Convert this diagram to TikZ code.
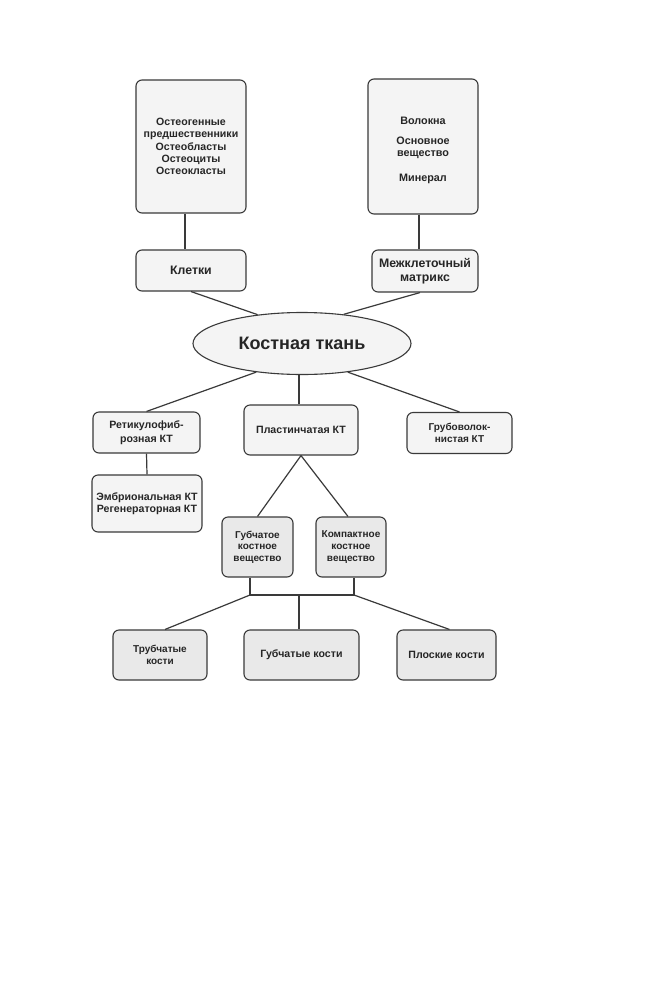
\documentclass[tikz,border=0pt]{standalone}
\usepackage{fontspec}
\setmainfont{Liberation Sans}
\usetikzlibrary{shapes.geometric,calc}
\definecolor{ln}{HTML}{3A3A3A}
\definecolor{fillA}{HTML}{F4F4F4}
\definecolor{fillB}{HTML}{E9E9E9}
\tikzset{
  box/.style={draw=ln, line width=1.1pt, rounded corners=6pt, fill=fillA, inner sep=0pt,
    align=center, font=\bfseries\fontsize{10.6}{12.4}\selectfont, text=black!85},
  boxg/.style={box, fill=fillB},
  small/.style={font=\bfseries\fontsize{10}{11.6}\selectfont},
  big/.style={font=\bfseries\fontsize{12.3}{14}\selectfont},
  conn/.style={draw=ln, line width=1.2pt},
}
\begin{document}
\begin{tikzpicture}[x=1pt,y=-1pt]
\useasboundingbox[fill=white] (0,0) rectangle (664,1005);
% top boxes
\node[box, minimum width=110, minimum height=133] (cellsdet) at (191,146.5)
  {Остеогенные\\предшественники\\Остеобласты\\Остеоциты\\Остеокласты};
\node[box, big, minimum width=110, minimum height=41] (cells) at (191,270.5) {Клетки};
\node[box, minimum width=110, minimum height=135, font=\bfseries\fontsize{10.8}{12}\selectfont] (matdet) at (423,146.5)
  {\rule{0pt}{16pt}Волокна\\[8pt]Основное\\вещество\\[13pt]Минерал};
\node[box, big, minimum width=106, minimum height=42] (matrix) at (425,271) {Межклеточный\\матрикс};
% ellipse
\node[ellipse, draw=ln, line width=1.1pt, fill=fillA, minimum width=218, minimum height=62, inner sep=0pt,
  font=\bfseries\fontsize{18}{20}\selectfont, text=black!85] (ell) at (302,343.5) {Костная ткань};
% second row
\node[box, minimum width=107, minimum height=41, font=\bfseries\fontsize{10.6}{14}\selectfont] (retic) at (146.5,432.5) {Ретикулофиб-\\розная КТ};
\node[box, minimum width=110, minimum height=57] (embr) at (147,503.5) {Эмбриональная КТ\\Регенераторная КТ};
\node[box, minimum width=114, minimum height=50] (plast) at (301,430) {Пластинчатая КТ};
\node[box, small, minimum width=105, minimum height=41] (grubo) at (459.5,433) {Грубоволок-\\нистая КТ};
% third row
\node[boxg, small, minimum width=71, minimum height=60] (gubch) at (257.5,547) {Губчатое\\костное\\вещество};
\node[boxg, small, minimum width=70, minimum height=60] (kompakt) at (351,547) {Компактное\\костное\\вещество};
% bottom
\node[boxg, small, minimum width=94, minimum height=50] (trub) at (160,655) {Трубчатые\\кости};
\node[boxg, minimum width=115, minimum height=50] (gubk) at (301.5,655) {Губчатые кости};
\node[boxg, minimum width=99, minimum height=50] (plosk) at (446.5,655) {Плоские кости};
% connectors
\draw[conn] ([xshift=-6]cellsdet.south) -- ([xshift=-6]cells.north);
\draw[conn] ([xshift=-4]matdet.south) -- ([xshift=-6]matrix.north);
\draw[conn] (cells.south) -- (ell.147);
\draw[conn] ([xshift=-5]matrix.south) -- (ell.35);
\draw[conn] (ell.212) -- (retic.north);
\draw[conn] ([xshift=-2]plast.north |- ell.south) -- ([xshift=-2]plast.north);
\draw[conn] (ell.328) -- (grubo.north);
\draw[conn] (retic.south) -- (embr.north);
\draw[conn] (plast.south) -- (gubch.north);
\draw[conn] (plast.south) -- ([xshift=-3]kompakt.north);
\coordinate (jl) at (250,595);
\coordinate (jm) at (299,595);
\coordinate (jr) at (354,595);
\draw[conn] (gubch.south -| jl) -- (jl) -- (jr) -- (kompakt.south -| jr);
\draw[conn] (jm) -- (gubk.north -| jm);
\draw[conn] (jl) -- ([xshift=5]trub.north);
\draw[conn] (jr) -- ([xshift=3]plosk.north);
\end{tikzpicture}
\end{document}
